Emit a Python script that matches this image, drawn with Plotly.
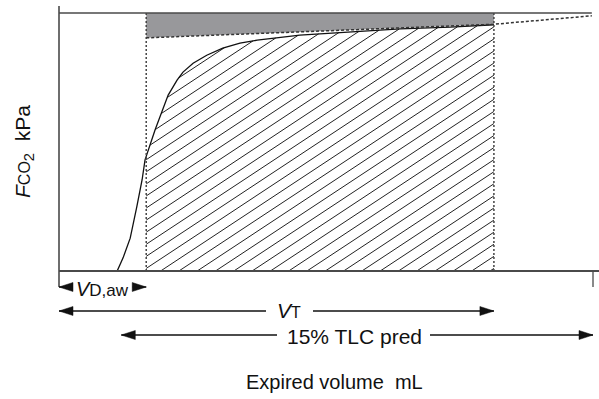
import numpy as np
import plotly.graph_objects as go

# ---------------- data ----------------
curve_vol = [0, 98, 108, 120, 131, 140, 145, 162, 184, 199, 209, 226, 249, 276, 305, 334, 406, 490, 575, 659, 733]
curve_fco2 = [0, 0, 0.28, 0.70, 1.36, 1.94, 2.37, 3.01, 3.75, 4.07, 4.24, 4.43, 4.60, 4.75, 4.86, 4.92, 5.03, 5.10, 5.16, 5.20, 5.25]
extrap_vol = [147, 733, 898]
extrap_fco2 = [4.97, 5.26, 5.44]
ref_level = 5.5          # upper reference line (kPa)
vd_aw = 147              # airway dead space (mL)
vt = 733                 # tidal volume (mL)
tlc15_start = 105
tlc15_end = 900
label_vd = "<i>V</i><span style='font-size:17px'>D,aw</span>"
label_vt = "<i>V</i><span style='font-size:16px'>T</span>"
label_tlc = "15% TLC pred"
label_x = "Expired volume\u00a0\u00a0mL"
label_y = "<i>F</i><span style='font-size:16px'>CO</span><sub>2</sub>\u00a0\u00a0kPa"

# ---------------- scales ----------------
W, H = 599, 399
sx = 534 / 900.0         # px per mL
sy = 258 / 5.5           # px per kPa
x_range = [-59 / sx, (W - 59) / sx]
y_range = [-(H - 271) / sy, 271 / sy]

def px_x(p):  # pixel length -> mL
    return p / sx

def px_y(p):  # pixel length -> kPa
    return p / sy

FONT = "Liberation Sans, Arial, sans-serif"
AX = "#4a4a4a"

fig = go.Figure()

# grey area between extrapolated line and reference level
ex_lo = float(np.interp(vd_aw, extrap_vol, extrap_fco2))
ex_hi = float(np.interp(vt, extrap_vol, extrap_fco2))
fig.add_trace(go.Scatter(
    x=[vd_aw, vt, vt, vd_aw, vd_aw], y=[ex_lo, ex_hi, ref_level, ref_level, ex_lo],
    fill="toself", fillcolor="#98989b", mode="lines", line=dict(width=0),
    hoverinfo="skip", showlegend=False))

# hatch lines under the curve between vd_aw and vt
slope = 0.66 * sx / sy
spacing = px_x(18.3)
x0_first = px_x(490 - 59)
xs = np.linspace(vd_aw, vt, 4000)
cy = np.interp(xs, curve_vol, curve_fco2)
hx, hy = [], []
for k in range(0, 40):
    x0 = x0_first - k * spacing
    ly = slope * (xs - x0)
    inside = (ly >= 0) & (ly <= cy)
    if inside.sum() < 2:
        continue
    idx = np.where(inside)[0]
    a, b = idx[0], idx[-1]
    hx += [xs[a], xs[b], None]
    hy += [ly[a], ly[b], None]
fig.add_trace(go.Scatter(x=hx, y=hy, mode="lines", line=dict(color="#222222", width=1.0),
                         hoverinfo="skip", showlegend=False))

# CO2 curve
fig.add_trace(go.Scatter(x=curve_vol, y=curve_fco2, mode="lines",
                         line=dict(color="#111111", width=1.3), hoverinfo="skip", showlegend=False))

# vertical dotted lines
for v in (vd_aw, vt):
    fig.add_trace(go.Scatter(x=[v, v], y=[0, ref_level], mode="lines",
                             line=dict(color="#444444", width=1.5, dash="2px,2px"),
                             hoverinfo="skip", showlegend=False))

# extrapolated dashed line
fig.add_trace(go.Scatter(x=extrap_vol, y=extrap_fco2, mode="lines",
                         line=dict(color="#333333", width=1.5, dash="3px,2px"),
                         hoverinfo="skip", showlegend=False))

# reference (top) line
fig.add_trace(go.Scatter(x=[0, extrap_vol[-1]], y=[ref_level, ref_level], mode="lines",
                         line=dict(color=AX, width=1.6), hoverinfo="skip", showlegend=False))

# axes lines
fig.add_trace(go.Scatter(x=[0, 0], y=[px_y(265), -px_y(16)], mode="lines",
                         line=dict(color=AX, width=1.6), hoverinfo="skip", showlegend=False))
fig.add_trace(go.Scatter(x=[0, x_range[1]], y=[0, 0], mode="lines",
                         line=dict(color=AX, width=2), hoverinfo="skip", showlegend=False))
fig.add_trace(go.Scatter(x=[tlc15_end, tlc15_end], y=[0, -px_y(16)], mode="lines",
                         line=dict(color=AX, width=1.3), hoverinfo="skip", showlegend=False))

# arrows
def arrow_row(y, x_start, x_end, gap_lo, gap_hi, head_left, head_right):
    lx = [x_start, gap_lo, None, gap_hi, x_end]
    ly = [y, y, None, y, y]
    fig.add_trace(go.Scatter(x=lx, y=ly, mode="lines", line=dict(color="#111111", width=1.3),
                             hoverinfo="skip", showlegend=False))
    L, hw = px_x(14), px_y(4.5)
    tri_x, tri_y = [], []
    if head_left:
        tri_x += [x_start, x_start + L, x_start + L, x_start, None]
        tri_y += [y, y + hw, y - hw, y, None]
    if head_right:
        tri_x += [x_end, x_end - L, x_end - L, x_end, None]
        tri_y += [y, y + hw, y - hw, y, None]
    fig.add_trace(go.Scatter(x=tri_x, y=tri_y, mode="lines", fill="toself", fillcolor="#111111",
                             line=dict(color="#111111", width=0.5), hoverinfo="skip", showlegend=False))

y_vd = -px_y(16)
y_vt = -px_y(40)
y_tlc = -px_y(64)

vd_c = vd_aw / 2
arrow_row(y_vd, 0, vd_aw, vd_c - px_x(30), vd_c + px_x(30), True, True)
vt_c = px_x(289 - 59)
arrow_row(y_vt, 0, vt, vt_c - px_x(23), vt_c + px_x(24), True, True)
tlc_c = px_x(354 - 59)
arrow_row(y_tlc, tlc15_start, tlc15_end, tlc_c - px_x(77), tlc_c + px_x(76), True, True)

ann = [
    dict(x=vd_c, y=y_vd - px_y(2), text=label_vd, font=dict(size=20)),
    dict(x=vt_c, y=y_vt + px_y(1), text=label_vt, font=dict(size=21)),
    dict(x=tlc_c, y=y_tlc - px_y(1), text=label_tlc, font=dict(size=21)),
    dict(x=px_x(334 - 59), y=-px_y(382 - 271), text=label_x, font=dict(size=20)),
    dict(x=px_x(24 - 59), y=px_y(271 - 152), text=label_y, font=dict(size=21), textangle=-90),
]
for a in ann:
    a.update(xref="x", yref="y", showarrow=False, xanchor="center", yanchor="middle")
    a["font"].update(family=FONT, color="#111111")

fig.update_layout(
    width=W, height=H, margin=dict(l=0, r=0, t=0, b=0),
    paper_bgcolor="white", plot_bgcolor="white",
    xaxis=dict(range=x_range, visible=False, fixedrange=True),
    yaxis=dict(range=y_range, visible=False, fixedrange=True),
    annotations=ann, font=dict(family=FONT),
)
fig.write_html("out.html")
